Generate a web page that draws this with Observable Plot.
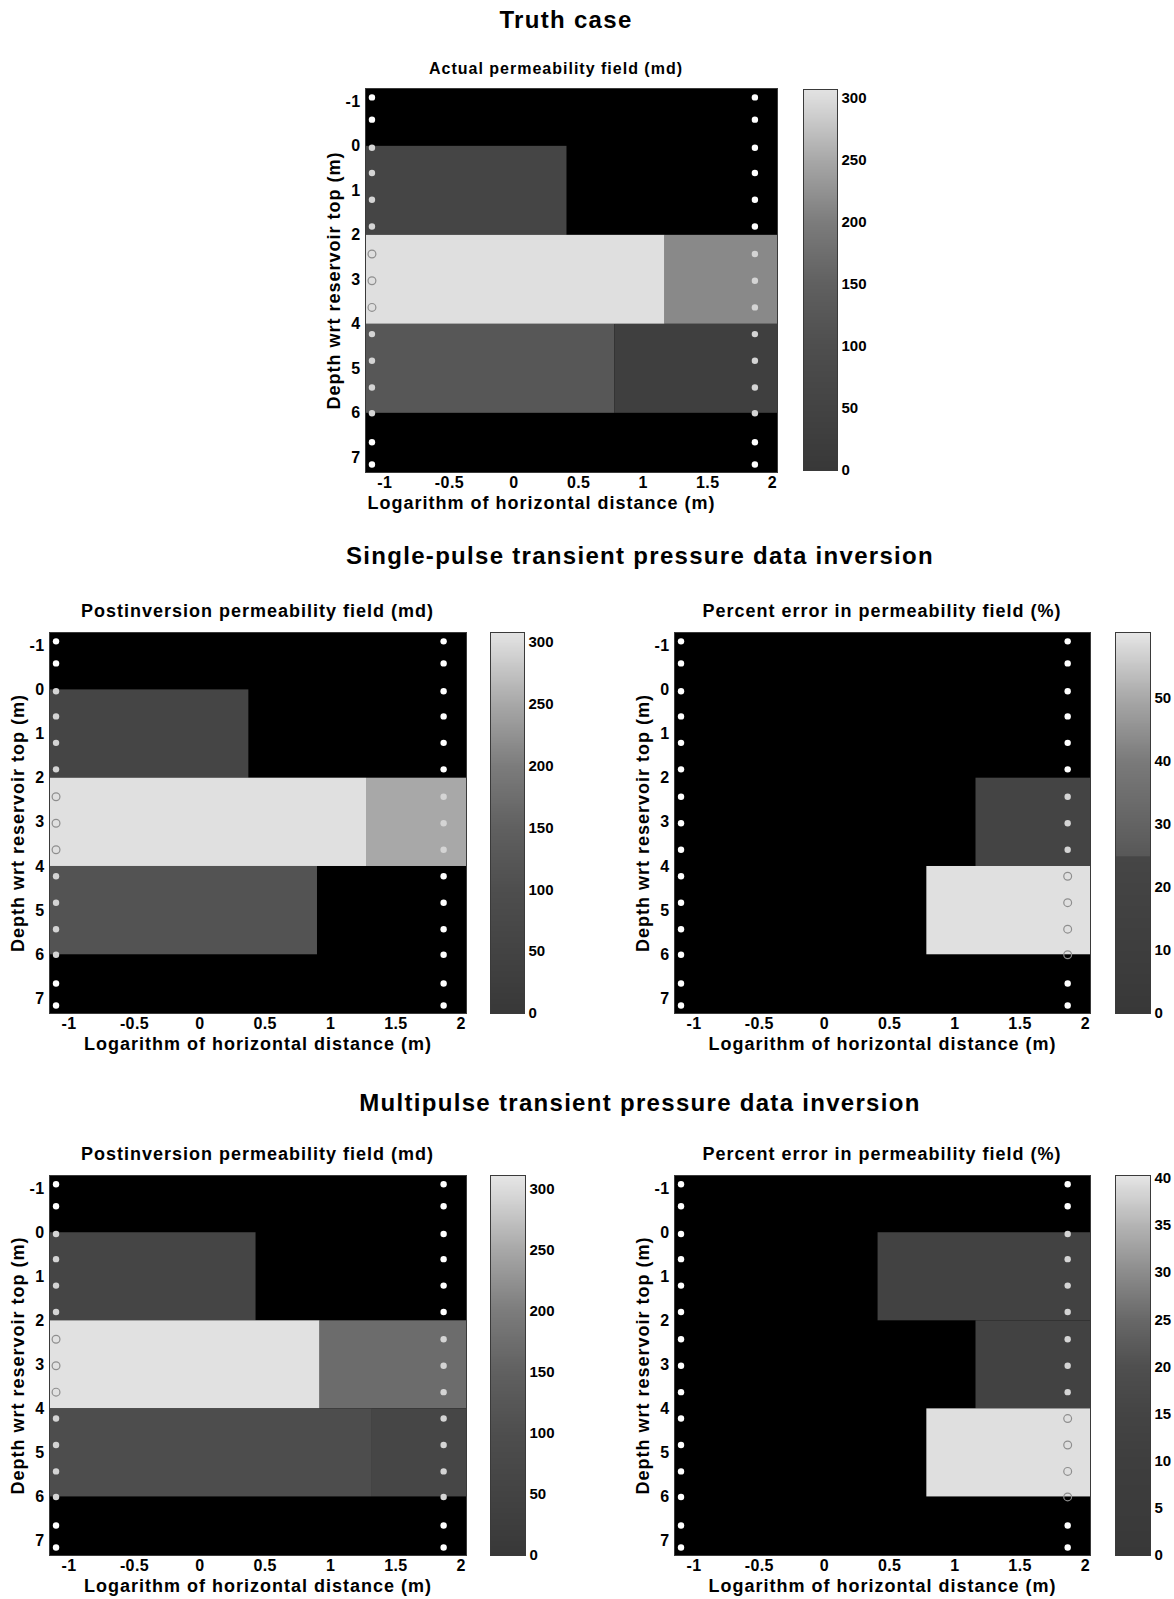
<!DOCTYPE html>
<html>
<head>
<meta charset="utf-8">
<script src="https://cdn.jsdelivr.net/npm/d3@7"></script>
<script src="https://cdn.jsdelivr.net/npm/@observablehq/plot@0.6"></script>
<style>
  html, body { margin: 0; padding: 0; background: #fff; }
  #page { position: relative; width: 1174px; height: 1599px; overflow: hidden;
          font-family: "Liberation Sans", Arial, Helvetica, sans-serif; font-weight: bold; color: #000; }
  .abs { position: absolute; }
  .title { position: absolute; white-space: nowrap; transform: translate(-50%, -50%); font-weight: bold; }
  svg { overflow: visible; }
</style>
</head>
<body>
<div id="page"></div>
<script>
// ---------------- DATA ----------------
const xTicks = [-1, -0.5, 0, 0.5, 1, 1.5, 2];
const yTicks = [-1, 0, 1, 2, 3, 4, 5, 6, 7];
const X_DOMAIN = [-1.15, 2.04];
const Y_DOMAIN = [-1.3, 7.33];
// observation points (depths) along the two wells
const wellX = [-1.1, 1.865];
const dotDepths = [-1.1, -0.6, 0.03, 0.6, 1.2, 1.8, 2.42, 3.02, 3.62, 4.22, 4.82, 5.42, 6.0, 6.65, 7.15];

// regions: [depthTop, depthBottom, logXStart, logXEnd, value]; unlisted cells are black
const truthRegions = [
  [0, 2, -1.15, 0.41, 60],
  [2, 4, -1.15, 1.17, 303],
  [2, 4, 1.17, 2.04, 215],
  [4, 6, -1.15, 0.78, 125],
  [4, 6, 0.78, 2.04, 30]
];
const singlePermRegions = [
  [0, 2, -1.15, 0.375, 60],
  [2, 4, -1.15, 1.275, 305],
  [2, 4, 1.275, 2.04, 250],
  [4, 6, -1.15, 0.9, 115]
];
const singleErrRegions = [
  [2, 4, 1.162, 2.04, 22],
  [4, 6, 0.785, 2.04, 59.5]
];
const multiPermRegions = [
  [0, 2, -1.15, 0.43, 60],
  [2, 4, -1.15, 0.92, 306],
  [2, 4, 0.92, 2.04, 172],
  [4, 6, -1.15, 1.32, 95],
  [4, 6, 1.32, 2.04, 62]
];
const multiErrRegions = [
  [0, 2, 0.411, 2.04, 13],
  [2, 4, 1.162, 2.04, 13],
  [4, 6, 0.785, 2.04, 39.6]
];

const permTicks = [0, 50, 100, 150, 200, 250, 300];
const err1Ticks = [0, 10, 20, 30, 40, 50];
const err2Ticks = [0, 5, 10, 15, 20, 25, 30, 35, 40];

// colour maps (grey ramps)
const permStops = [0, 50, 100, 150, 200, 250, 300, 312];
const permGreys = ["#383838", "#434343", "#4e4e4e", "#606060", "#7c7c7c", "#a8a8a8", "#dcdcdc", "#e6e6e6"];
const err1Stops = [0, 25, 25.01, 40, 50, 60.5];
const err1Greys = ["#383838", "#464646", "#585858", "#7a7a7a", "#a8a8a8", "#e6e6e6"];
const err2Stops = [0, 10, 15, 20, 25, 30, 35, 40.3];
const err2Greys = ["#383838", "#3e3e3e", "#444444", "#4f4f4f", "#686868", "#8c8c8c", "#b4b4b4", "#e6e6e6"];

const X_LABEL = "Logarithm of horizontal distance (m)";
const Y_LABEL = "Depth wrt reservoir top (m)";

// ---------------- LAYOUT ----------------
const page = document.getElementById("page");
const FONT = '"Liberation Sans", Arial, Helvetica, sans-serif';

function addTitle(text, cx, cy, size, spacing) {
  const d = document.createElement("div");
  d.className = "title";
  d.style.left = cx + "px";
  d.style.top = cy + "px";
  d.style.fontSize = size + "px";
  d.style.letterSpacing = spacing + "px";
  d.textContent = text;
  page.appendChild(d);
}

function colorScale(stops, greys) {
  return { type: "linear", domain: stops, range: greys, clamp: true };
}

function kindAt(x, y, regs, max) {
  let found = null;
  for (const r of regs) if (y >= r.y1 && y <= r.y2 && x >= r.x1 && x <= r.x2) found = r;
  if (!found) return "none";
  return found.v >= 0.85 * max ? "high" : "mid";
}

function panel(cfg) {
  const [L, T, R, B] = cfg.frame;
  const mL = 70, mR = 6, mT = 6, mB = 50;
  const regs = cfg.regions.map(([y1, y2, x1, x2, v]) => ({ y1, y2, x1, x2, v }));
  const dots = wellX.flatMap(x => dotDepths.map(y => ({ x, y, kind: kindAt(x, y, regs, cfg.max) })));
  const svg = Plot.plot({
    width: R - L + mL + mR, height: B - T + mT + mB,
    marginLeft: mL, marginRight: mR, marginTop: mT, marginBottom: mB,
    x: { domain: X_DOMAIN },
    y: { domain: Y_DOMAIN, reverse: true },
    color: colorScale(cfg.stops, cfg.greys),
    style: { fontFamily: FONT, fontWeight: "bold", fontSize: "16px", letterSpacing: "0.4px", color: "#000", background: "transparent", overflow: "visible" },
    marks: [
      Plot.frame({ fill: "black" }),
      Plot.rect(regs, { x1: "x1", x2: "x2", y1: "y1", y2: "y2", fill: "v" }),
      Plot.dot(dots.filter(d => d.kind === "none"), { x: "x", y: "y", r: 3.2, fill: "white" }),
      Plot.dot(dots.filter(d => d.kind === "mid"), { x: "x", y: "y", r: 3.2, fill: "#d4d4d4" }),
      Plot.dot(dots.filter(d => d.kind === "high"), { x: "x", y: "y", r: 3.9, fill: "none", stroke: "#8e8e8e", strokeWidth: 1.2 }),
      Plot.frame({ stroke: "#3a3a3a", strokeWidth: 1 }),
      Plot.axisX({ ticks: xTicks, tickSize: 0, tickPadding: 4, tickFormat: d => String(d), fontSize: 16, fontWeight: "bold", label: null }),
      Plot.axisY({ ticks: yTicks, tickSize: 0, tickPadding: 5, tickFormat: d => String(d), fontSize: 16, fontWeight: "bold", label: null }),
      Plot.text([X_LABEL], { text: d => d, frameAnchor: "bottom", textAnchor: "middle", lineAnchor: "middle", dx: cfg.xLabelShift || 0, dy: 31, fontSize: 18, fontWeight: "bold" }),
      Plot.text([Y_LABEL], { text: d => d, frameAnchor: "left", textAnchor: "middle", lineAnchor: "middle", dx: -31, rotate: -90, fontSize: 18, fontWeight: "bold" })
    ]
  });
  svg.classList.add("abs");
  svg.style.left = (L - mL) + "px";
  svg.style.top = (T - mT) + "px";
  // slightly wider spacing for the axis titles
  svg.querySelectorAll("text").forEach(t => {
    if (t.textContent === X_LABEL || t.textContent === Y_LABEL) t.style.letterSpacing = "1px";
  });
  page.appendChild(svg);

  // colour bar
  const [bL, bT, bR, bB] = cfg.bar;
  const bm = 12;
  const bar = Plot.plot({
    width: bR - bL + 50, height: bB - bT + 2 * bm,
    marginLeft: 0, marginRight: 50, marginTop: bm, marginBottom: bm,
    x: { domain: [0, 1], axis: null },
    y: { domain: [0, cfg.max] },
    color: colorScale(cfg.stops, cfg.greys),
    style: { fontFamily: FONT, fontWeight: "bold", fontSize: "15px", color: "#000", background: "transparent", overflow: "visible" },
    marks: [
      Plot.raster({ x1: 0, x2: 1, y1: 0, y2: cfg.max, width: 1, height: 400, fill: (x, y) => y, imageRendering: "auto" }),
      Plot.frame({ stroke: "#3a3a3a", strokeWidth: 1 }),
      Plot.axisY({ anchor: "right", ticks: cfg.barTicks, tickSize: 0, tickPadding: 4, tickFormat: d => String(d), fontSize: 15, fontWeight: "bold", label: null })
    ]
  });
  bar.classList.add("abs");
  bar.style.left = bL + "px";
  bar.style.top = (bT - bm) + "px";
  page.appendChild(bar);

  addTitle(cfg.title, cfg.titleX ?? (L + R) / 2, T - cfg.titleGap, cfg.titleSize, 1);
}

addTitle("Truth case", 566, 20, 24, 1.3);
addTitle("Single-pulse transient pressure data inversion", 640, 556, 24, 1.3);
addTitle("Multipulse transient pressure data inversion", 640, 1103, 24, 1.3);

panel({ frame: [365, 88, 777, 472], bar: [803, 89, 837, 470], regions: truthRegions,
        stops: permStops, greys: permGreys, max: 307, barTicks: permTicks,
        title: "Actual permeability field (md)", titleGap: 19, titleSize: 16, titleX: 556, xLabelShift: -30 });
panel({ frame: [49, 632, 466, 1013], bar: [490, 632, 524, 1013], regions: singlePermRegions,
        stops: permStops, greys: permGreys, max: 308, barTicks: permTicks,
        title: "Postinversion permeability field (md)", titleGap: 21, titleSize: 18 });
panel({ frame: [674, 632, 1090, 1013], bar: [1115, 632, 1150, 1013], regions: singleErrRegions,
        stops: err1Stops, greys: err1Greys, max: 60.5, barTicks: err1Ticks,
        title: "Percent error in permeability field (%)", titleGap: 21, titleSize: 18 });
panel({ frame: [49, 1175, 466, 1555], bar: [490, 1175, 525, 1555], regions: multiPermRegions,
        stops: permStops, greys: permGreys, max: 311, barTicks: permTicks,
        title: "Postinversion permeability field (md)", titleGap: 21, titleSize: 18 });
panel({ frame: [674, 1175, 1090, 1555], bar: [1115, 1175, 1150, 1555], regions: multiErrRegions,
        stops: err2Stops, greys: err2Greys, max: 40.3, barTicks: err2Ticks,
        title: "Percent error in permeability field (%)", titleGap: 21, titleSize: 18 });
</script>
</body>
</html>
